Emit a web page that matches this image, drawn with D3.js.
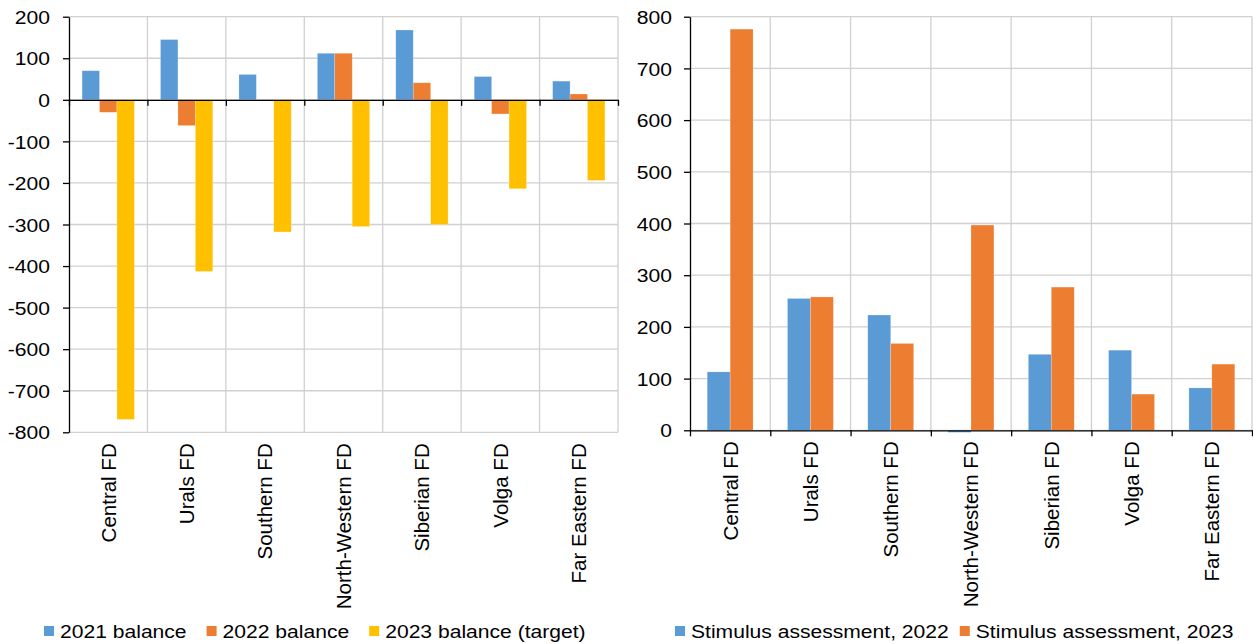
<!DOCTYPE html>
<html>
<head>
<meta charset="utf-8">
<script src="https://cdn.jsdelivr.net/npm/d3@7"></script>
<style>
  html, body { margin: 0; padding: 0; background: #fff; }
  svg { display: block; }
  text { font-family: "Liberation Sans", Arial, sans-serif; fill: #000; }
</style>
</head>
<body>
<svg id="chart" width="1253" height="644"></svg>
<script>
// Federal districts shared by both panels
const categories = ["Central FD", "Urals FD", "Southern FD", "North-Western FD", "Siberian FD", "Volga FD", "Far Eastern FD"];

// Left panel: budget balances
const balance2021 = [70, 145, 61, 112, 168, 56, 45];
const balance2022 = [-30, -62, -2, 112, 41, -34, 14];
const balance2023 = [-769, -413, -318, -305, -300, -214, -194];
const leftSeriesNames = ["2021 balance", "2022 balance", "2023 balance (target)"];
const leftTicks = [200, 100, 0, -100, -200, -300, -400, -500, -600, -700, -800];
const leftTickLabels = ["200", "100", "0", "-100", "-200", "-300", "-400", "-500", "-600", "-700", "-800"];

// Right panel: stimulus assessment
const stimulus2022 = [113, 255, 223, -4, 147, 155, 82];
const stimulus2023 = [776, 258, 168, 397, 277, 70, 128];
const rightSeriesNames = ["Stimulus assessment, 2022", "Stimulus assessment, 2023"];
const rightTicks = [800, 700, 600, 500, 400, 300, 200, 100, 0];
const rightTickLabels = ["800", "700", "600", "500", "400", "300", "200", "100", "0"];

const colors = ["#5b9bd5", "#ed7d31", "#ffc000"];
const GRID = "#d0d0d0";
const STRETCH = 1.14;      // horizontal widening of upright text
const FONT = 18.5;         // upright text size
const CAT_FONT = 20.5;     // rotated category label size

const svg = d3.select("#chart");

function drawPanel(opt) {
  const g = svg.append("g");
  const x = d3.scaleBand().domain(categories).range([opt.x0, opt.x1]).padding(0);
  const xBound = d3.scaleLinear().domain([0, categories.length]).range([opt.x0, opt.x1]);
  const inner = d3.scaleBand().domain(d3.range(opt.series.length))
    .range([0, x.step()]).paddingInner(0).paddingOuter(0.75);
  const y = d3.scaleLinear().domain(opt.domain).range([opt.yBottom, opt.yTop]);

  // horizontal gridlines
  g.append("g").selectAll("line").data(opt.ticks).join("line")
    .attr("x1", opt.x0).attr("x2", opt.x1)
    .attr("y1", d => y(d)).attr("y2", d => y(d))
    .attr("stroke", GRID).attr("stroke-width", 1.3);
  // vertical gridlines at category boundaries
  g.append("g").selectAll("line").data(d3.range(1, categories.length + 1)).join("line")
    .attr("x1", d => xBound(d)).attr("x2", d => xBound(d))
    .attr("y1", opt.yTop).attr("y2", opt.yBottom)
    .attr("stroke", GRID).attr("stroke-width", 1.3);

  // bars
  opt.series.forEach((vals, si) => {
    g.append("g").selectAll("rect").data(vals).join("rect")
      .attr("x", (d, i) => x(categories[i]) + inner(si))
      .attr("width", inner.bandwidth())
      .attr("y", d => Math.min(y(d), y(0)))
      .attr("height", d => Math.abs(y(d) - y(0)))
      .attr("fill", colors[si])
      .attr("stroke", "rgba(255,255,255,0.35)").attr("stroke-width", 0.6);
  });

  // value axis
  const yAxis = g.append("g").attr("transform", `translate(${opt.x0},0)`)
    .call(d3.axisLeft(y).tickValues(opt.ticks).tickSize(6).tickSizeOuter(0)
      .tickFormat((d, i) => opt.tickLabels[i]));
  yAxis.select(".domain").attr("stroke", "#000").attr("stroke-width", 1.3);
  yAxis.selectAll(".tick line").attr("stroke", "#000").attr("stroke-width", 1.3);
  yAxis.selectAll(".tick text")
    .attr("x", -opt.labelGap / STRETCH).attr("dy", "0.36em")
    .attr("transform", `scale(${STRETCH},1)`)
    .style("font-size", FONT + "px").style("font-family", "'Liberation Sans', Arial, sans-serif")
    .attr("fill", "#000");

  // category axis along zero
  const xAxis = g.append("g").attr("transform", `translate(0,${y(0)})`)
    .call(d3.axisBottom(xBound).tickValues(d3.range(0, categories.length + 1))
      .tickSize(6).tickSizeOuter(0).tickFormat(""));
  xAxis.select(".domain").attr("stroke", "#000").attr("stroke-width", 1.3);
  xAxis.selectAll(".tick line").attr("stroke", "#000").attr("stroke-width", 1.3);

  // rotated category labels below the plot
  g.append("g").selectAll("text").data(categories).join("text")
    .attr("transform", d => `translate(${x(d) + x.bandwidth() / 2},${opt.yBottom + 11}) rotate(-90)`)
    .attr("text-anchor", "end").attr("dy", "0.36em")
    .style("font-size", CAT_FONT + "px")
    .text(d => d);

  // legend
  const leg = g.append("g");
  let cx = opt.legendX;
  opt.seriesNames.forEach((name, si) => {
    leg.append("rect").attr("x", cx).attr("y", opt.legendY - 5).attr("width", 10).attr("height", 10)
      .attr("fill", colors[si]);
    const t = leg.append("text")
      .attr("transform", `translate(${cx + 16},${opt.legendY}) scale(${STRETCH},1)`)
      .attr("dy", "0.36em").style("font-size", FONT + "px").text(name);
    const w = t.node().getComputedTextLength() * STRETCH;
    cx += 16 + w + opt.legendGap;
  });
}

drawPanel({
  x0: 69, x1: 618, yTop: 16.7, yBottom: 432.3,
  domain: [-800, 200], ticks: leftTicks, tickLabels: leftTickLabels,
  series: [balance2021, balance2022, balance2023], seriesNames: leftSeriesNames,
  labelGap: 19, legendX: 44, legendY: 631, legendGap: 20
});

drawPanel({
  x0: 690, x1: 1252, yTop: 16.7, yBottom: 430.3,
  domain: [0, 800], ticks: rightTicks, tickLabels: rightTickLabels,
  series: [stimulus2022, stimulus2023], seriesNames: rightSeriesNames,
  labelGap: 18, legendX: 675, legendY: 631, legendGap: 11
});
</script>
</body>
</html>
